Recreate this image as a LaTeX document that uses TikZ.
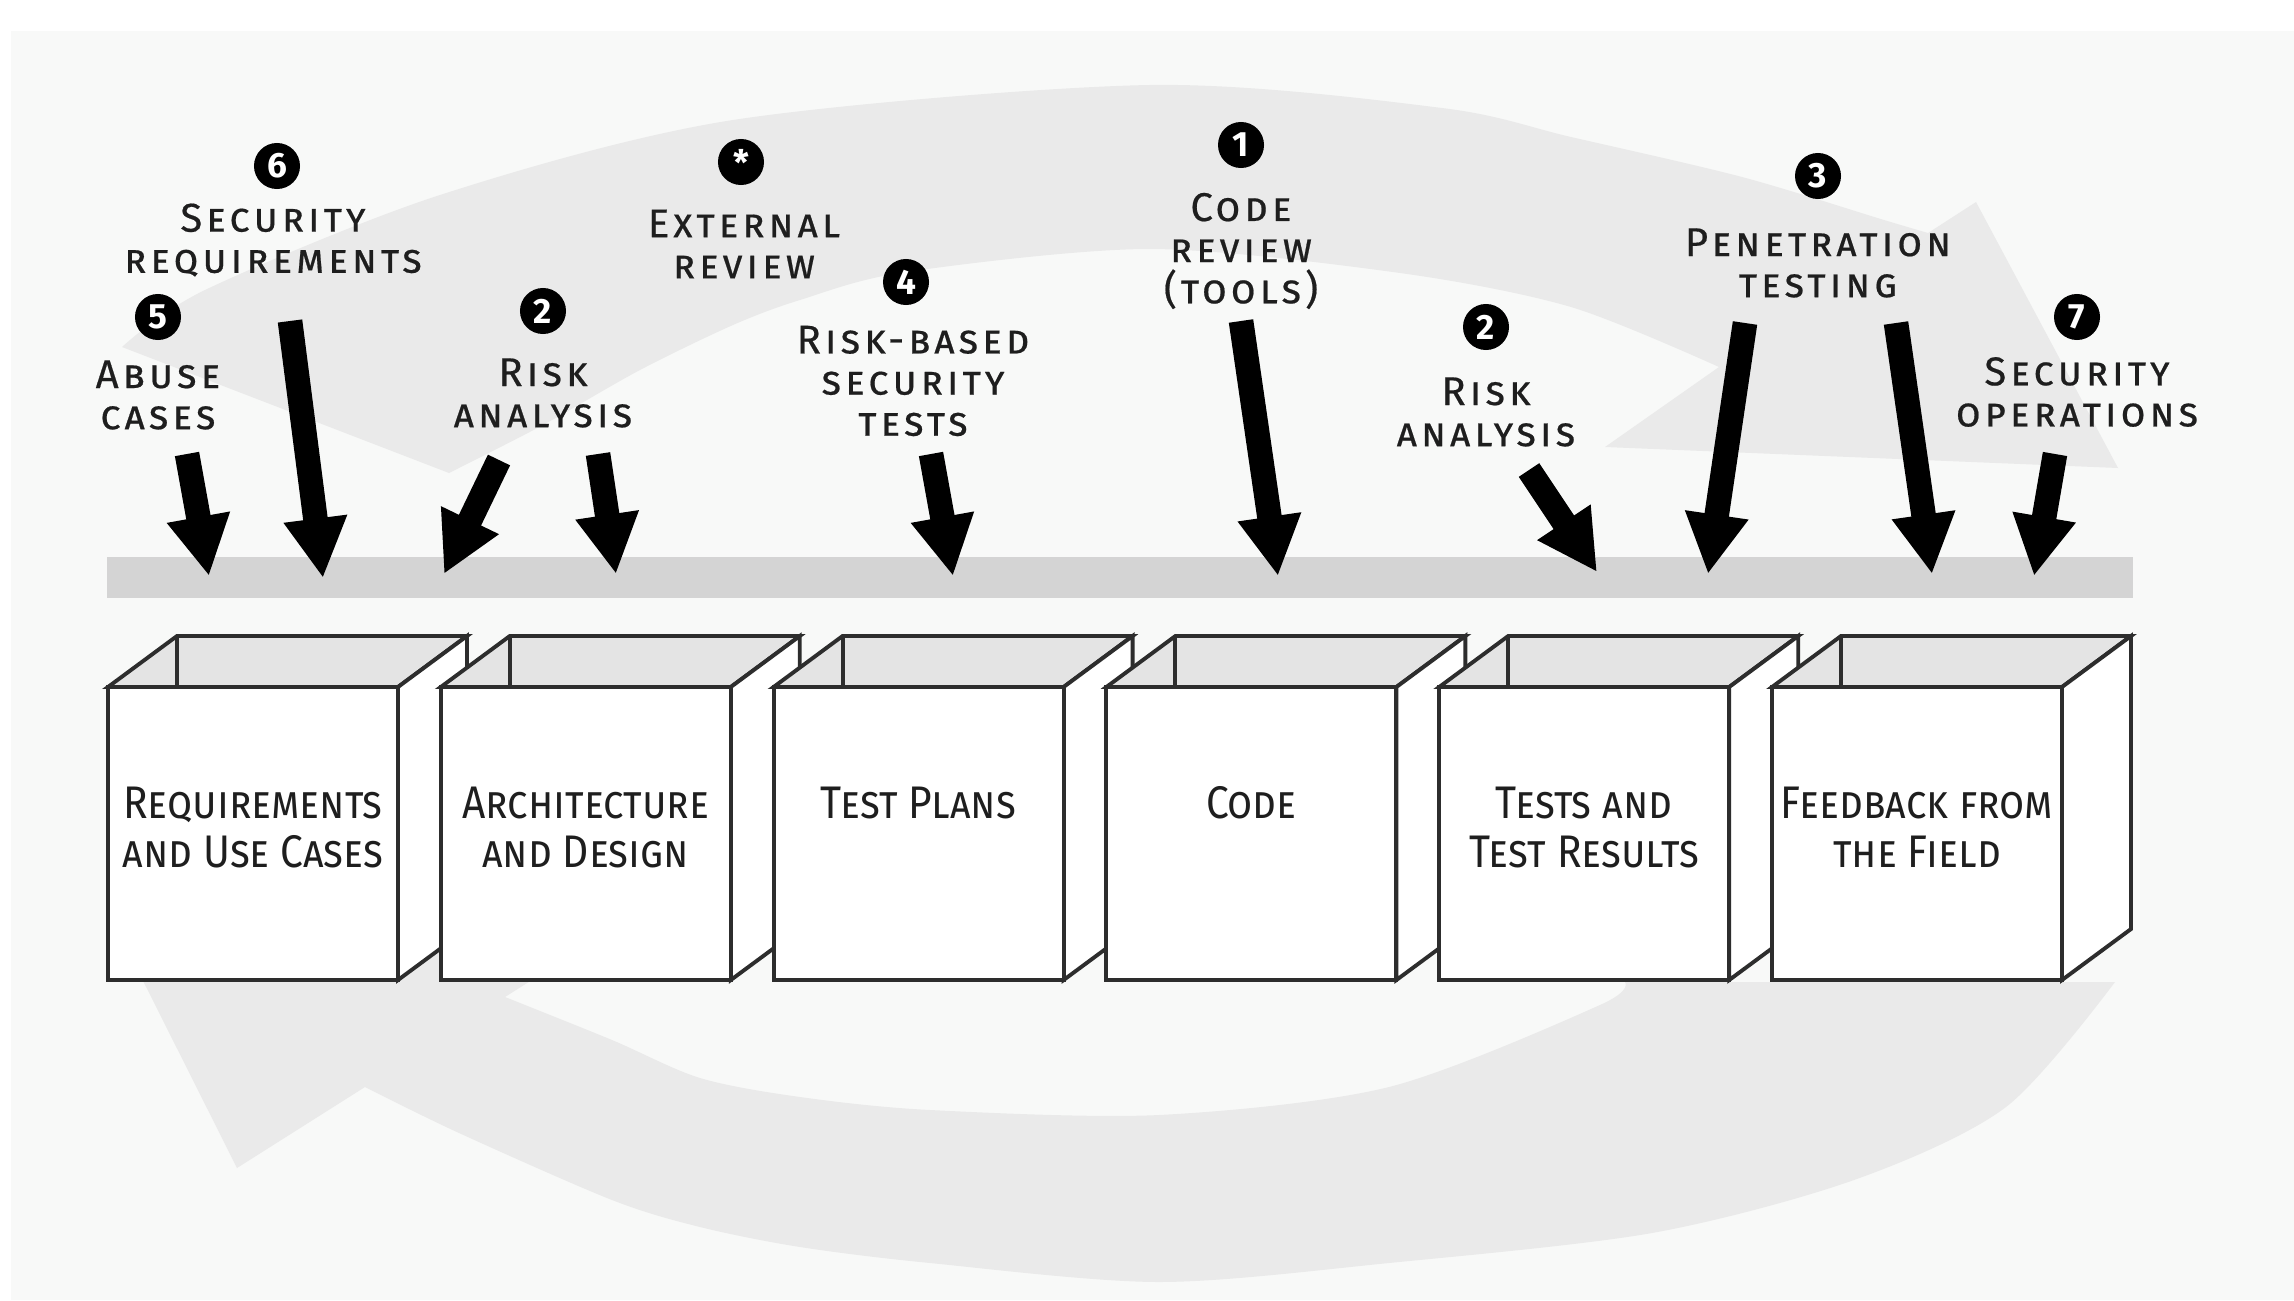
\documentclass[tikz,border=0pt]{standalone}
\usepackage{fontspec}
\setmainfont{Fira Sans}
\newfontfamily\labelfont[LetterSpace=10, FakeBold=0.5]{Fira Sans}
\newfontfamily\boxfont[FakeStretch=0.89]{Fira Sans}
\usetikzlibrary{arrows.meta}

\definecolor{panel}{RGB}{248,249,248}
\definecolor{ring}{RGB}{234,234,234}
\definecolor{bar}{RGB}{212,212,212}
\definecolor{inside}{RGB}{228,228,228}
\definecolor{edge}{RGB}{45,45,45}
\definecolor{ink}{RGB}{30,30,30}

\tikzset{
  boxline/.style={draw=edge, line width=1.1pt, line join=miter},
  bigarrow/.style={line width=7pt, -{Triangle[length=17pt,width=17pt]}},
  numdot/.style={circle, fill=black, text=white, inner sep=0pt, minimum size=0.46cm,
    font=\fontsize{10}{10}\selectfont\bfseries},
  steplabel/.style={align=center, text=ink, inner sep=0pt,
    font=\labelfont\fontsize{11.4}{11.7}\selectfont\scshape},
  boxlabel/.style={align=center, text=ink, inner sep=0pt, anchor=north,
    font=\boxfont\fontsize{13}{13.9}\selectfont\scshape}
}

\begin{document}
\begin{tikzpicture}[x=0.01cm, y=-0.01cm]
\useasboundingbox (0,0) rectangle (2294,1300);
\fill[white] (0,0) rectangle (2294,1300);
\fill[panel] (11,31) rectangle (2294,1300);

% upper half of the cycle, ends in the big head on the right
\fill[ring] plot[smooth] coordinates {(122,347) (205,290) (440,195) (733,120) (1150,85)
    (1442,108) (1571,137) (1742,177) (1884,220) (1928,233)}
  -- (1976,202) -- (2118,468) -- (1605,447) -- (1719,367)
  -- plot[smooth] coordinates {(1719,367) (1571,307) (1400,273) (1150,249) (906,272)
    (800,300) (733,325) (640,370) (543,425) (449,473)} -- cycle;

% lower half, comes back under the boxes
\fill[ring] plot[smooth] coordinates {(2115,982) (2006,1107) (1854,1180) (1652,1233)
    (1389,1263) (1159,1282) (930,1263) (800,1247) (700,1227) (612,1200) (459,1133) (365,1087)}
  -- (237,1168) -- (115,925) -- (600,937) -- (505,997)
  -- plot[smooth] coordinates {(505,997) (612,1040) (700,1078) (800,1097) (930,1110)
    (1159,1115) (1389,1087) (1600,1005) (1625,982)} -- cycle;

% the shelf the arrows hit
\fill[bar] (107,557) rectangle (2133,598);

\foreach \n/\sx/\sy/\ex/\ey in {abuse/187/454/209/576, secreq/290/321/323/578,
    riskA/499/460/444/574, riskB/598/454/616/574, tests/931/454/953/576,
    code/1241/321/1278/576, riskC/1529/470/1597/572, penA/1745/323/1708/574,
    penB/1896/323/1932/574, ops/2055/454/2034/576}
{
  \coordinate (t-\n) at (\sx,\sy);
  \coordinate (h-\n) at (\ex,\ey);
  \draw[bigarrow] (t-\n) -- (h-\n);
}

% open boxes, left to right so each one hides the side of the last
\foreach \i/\txt in {0/{Requirements\\and Use Cases}, 1/{Architecture\\and Design},
    2/{Test Plans}, 3/{Code}, 4/{Tests and\\Test Results}, 5/{Feedback from\\the Field}}
{
  \pgfmathsetmacro{\bx}{108+332.8*\i}
  \filldraw[boxline, fill=inside] (\bx,687) -- ++(69,-51) -- ++(290,0) -- ++(-69,51) -- cycle;
  \draw[boxline] (\bx+69,636) -- (\bx+69,687);
  \filldraw[boxline, fill=white] (\bx+290,687) -- ++(69,-51) -- ++(0,293) -- ++(-69,51) -- cycle;
  \filldraw[boxline, fill=white] (\bx,687) rectangle ++(290,293);
  \node[boxlabel] (box-\i) at (\bx+145,786) {\txt};
}

% activities
\node[numdot] (n-secreq) at (277,166) {6};
\node[steplabel] (l-secreq) at (273,240) {Security\\requirements};
\node[numdot] (n-abuse) at (158,317) {5};
\node[steplabel] (l-abuse) at (158,395) {Abuse\\cases};
\node[numdot] (n-ext) at (741,162) {*};
\node[steplabel] (l-ext) at (744,244) {External\\review};
\node[numdot] (n-riskA) at (543,311) {2};
\node[steplabel] (l-riskA) at (543,393) {Risk\\analysis};
\node[numdot] (n-tests) at (906,282) {4};
\node[steplabel] (l-tests) at (913,381) {Risk-based\\security\\tests};
\node[numdot] (n-code) at (1241,145) {1};
\node[steplabel] (l-code) at (1241,251) {Code\\review\\(tools)};
\node[numdot] (n-riskC) at (1486,327) {2};
\node[steplabel] (l-riskC) at (1486,412) {Risk\\analysis};
\node[numdot] (n-pen) at (1818,176) {3};
\node[steplabel] (l-pen) at (1818,263) {Penetration\\testing};
\node[numdot] (n-ops) at (2077,317) {7};
\node[steplabel] (l-ops) at (2077,392) {Security\\operations};
\end{tikzpicture}
\end{document}
